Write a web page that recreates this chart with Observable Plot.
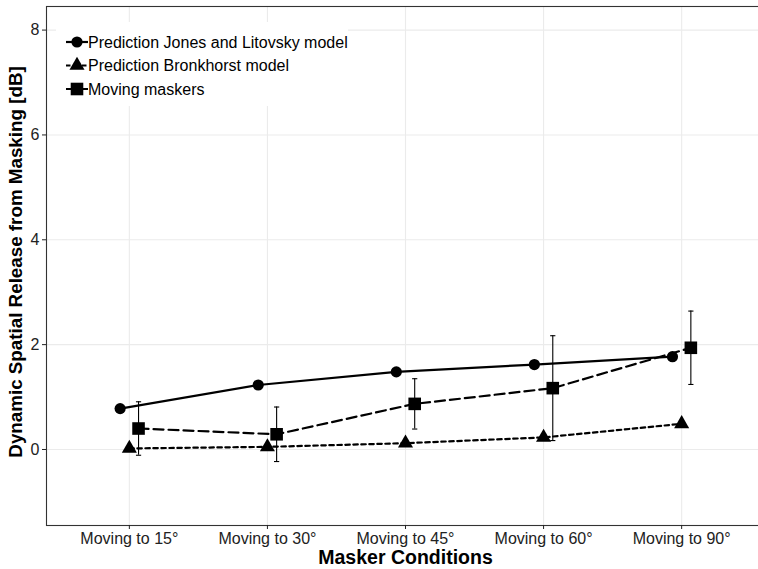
<!DOCTYPE html>
<html>
<head>
<meta charset="utf-8">
<script src="https://cdn.jsdelivr.net/npm/d3@7"></script>
<script src="https://cdn.jsdelivr.net/npm/@observablehq/plot@0.6"></script>
<style>
  html, body { margin: 0; padding: 0; background: #fff; }
  #wrap { position: relative; width: 758px; height: 569px; overflow: hidden; background: #fff; }
  #wrap > svg.plot { max-width: none !important; }
  #legend { position: absolute; left: 56px; top: 22px; background: #fff; }
</style>
</head>
<body>
<div id="wrap"></div>
<script>
// ---- data ----
const conditions = ["Moving to 15°", "Moving to 30°", "Moving to 45°", "Moving to 60°", "Moving to 90°"];
const jonesLitovsky = [0.78, 1.23, 1.48, 1.62, 1.77];
const bronkhorst = [0.02, 0.05, 0.12, 0.23, 0.49];
const movingMaskers = [0.40, 0.29, 0.87, 1.17, 1.94];
const movingMaskersErr = [0.51, 0.52, 0.48, 1.00, 0.70];
const seriesNames = ["Prediction Jones and Litovsky model", "Prediction Bronkhorst model", "Moving maskers"];
const yTicks = [0, 2, 4, 6, 8];

const idx = conditions.map((_, i) => i);
const jl = jonesLitovsky.map((v, i) => ({i, v}));
const br = bronkhorst.map((v, i) => ({i, v}));
const mm = movingMaskers.map((v, i) => ({i, v, e: movingMaskersErr[i]}));

const font = "'Liberation Sans', Arial, Helvetica, sans-serif";
const dodge = 9.2;
const lw = 2.2;

const capSymbol = {
  draw(ctx) { ctx.moveTo(-2.6, 0); ctx.lineTo(2.6, 0); }
};

const chart = Plot.plot({
  width: 766,
  height: 569,
  marginLeft: 46,
  marginRight: 2,
  marginTop: 6,
  marginBottom: 44,
  style: {fontFamily: font, fontSize: "16px", background: "#fff", overflow: "visible", maxWidth: "none"},
  x: {type: "linear", domain: [-0.6, 4.6], label: null},
  y: {domain: [-1.45, 8.45], label: null},
  marks: [
    Plot.gridX(idx, {stroke: "#ebebeb", strokeOpacity: 1, strokeWidth: 1.1}),
    Plot.gridY(yTicks, {stroke: "#ebebeb", strokeOpacity: 1, strokeWidth: 1.1}),
    Plot.ruleX(mm, {x: "i", y1: d => d.v - d.e, y2: d => d.v + d.e, dx: dodge, stroke: "black", strokeWidth: 1.1}),
    Plot.dot(mm, {x: "i", y: d => d.v + d.e, dx: dodge, symbol: capSymbol, stroke: "black", fill: "none", strokeWidth: 1.1}),
    Plot.dot(mm, {x: "i", y: d => d.v - d.e, dx: dodge, symbol: capSymbol, stroke: "black", fill: "none", strokeWidth: 1.1}),
    Plot.line(jl, {x: "i", y: "v", dx: -dodge, stroke: "black", strokeWidth: lw}),
    Plot.line(br, {x: "i", y: "v", stroke: "black", strokeWidth: lw, strokeDasharray: "4.5,3.5"}),
    Plot.line(mm, {x: "i", y: "v", dx: dodge, stroke: "black", strokeWidth: lw, strokeDasharray: "10,5"}),
    Plot.dot(jl, {x: "i", y: "v", dx: -dodge, symbol: "circle", r: 5.6, fill: "black"}),
    Plot.dot(br, {x: "i", y: "v", symbol: "triangle", r: 5.6, fill: "black"}),
    Plot.dot(mm, {x: "i", y: "v", dx: dodge, symbol: "square", r: 7.1, fill: "black"}),
    Plot.frame({stroke: "#333", strokeWidth: 1.1}),
    Plot.axisX(idx, {tickFormat: i => conditions[i], tickSize: 4, tickPadding: 3, color: "#222", label: null}),
    Plot.axisY(yTicks, {tickFormat: d => String(d), tickSize: 4, tickPadding: 3, color: "#222", label: null}),
    Plot.text(["Masker Conditions"], {frameAnchor: "bottom", dy: 32, lineAnchor: "middle", textAnchor: "middle", fontSize: 19.5, fontWeight: "bold", fill: "black"}),
    Plot.text(["Dynamic Spatial Release from Masking [dB]"], {frameAnchor: "left", dx: -31, dy: -4, rotate: -90, textAnchor: "middle", lineAnchor: "middle", fontSize: 18.8, fontWeight: "bold", fill: "black"})
  ]
});
chart.style.maxWidth = "none";
document.getElementById("wrap").appendChild(chart);

// ---- legend (inside panel, top-left) ----
const lg = d3.select("#wrap").append("svg")
  .attr("id", "legend")
  .attr("width", 292).attr("height", 84)
  .style("font-family", font).style("font-size", "16px");
const keys = [
  {sym: d3.symbolCircle, size: Math.PI * 5.6 * 5.6, dash: null},
  {sym: d3.symbolTriangle, size: Math.PI * 5.6 * 5.6, dash: "4.5,3.5"},
  {sym: d3.symbolSquare, size: Math.PI * 7.1 * 7.1, dash: "10,5"}
];
const rowY = [20, 43.5, 67];
seriesNames.forEach((name, k) => {
  const g = lg.append("g").attr("transform", `translate(0,${rowY[k]})`);
  g.append("line").attr("x1", 10).attr("x2", 32).attr("y1", 0).attr("y2", 0)
    .attr("stroke", "black").attr("stroke-width", lw)
    .attr("stroke-dasharray", keys[k].dash);
  g.append("path").attr("d", d3.symbol(keys[k].sym, keys[k].size)())
    .attr("transform", "translate(21,0)").attr("fill", "black");
  g.append("text").attr("x", 32).attr("y", 0).attr("dy", "0.35em")
    .attr("fill", "black").text(name);
});
</script>
</body>
</html>
